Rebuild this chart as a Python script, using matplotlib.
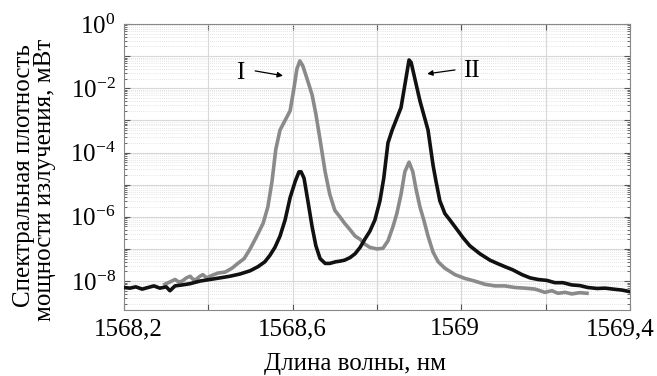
import numpy as np
import matplotlib
matplotlib.use("Agg")
import matplotlib.pyplot as plt
import matplotlib.transforms as mtrans
from matplotlib.ticker import LogLocator, FixedLocator, NullFormatter, FuncFormatter

plt.rcParams['font.family'] = ['Liberation Serif', 'DejaVu Serif']
plt.rcParams['mathtext.fontset'] = 'custom'
plt.rcParams['mathtext.rm'] = 'Liberation Serif'
plt.rcParams['mathtext.it'] = 'Liberation Serif:italic'

# Curve I (grey): wavelength (nm), log10 power (mW)
wl_I = [1568.297, 1568.310, 1568.321, 1568.330, 1568.338, 1568.348, 1568.357, 1568.364,
        1568.371, 1568.380, 1568.387, 1568.396, 1568.404, 1568.413, 1568.423,
        1568.440, 1568.456, 1568.470, 1568.485, 1568.499, 1568.515, 1568.530, 1568.541,
        1568.551, 1568.560, 1568.570, 1568.582, 1568.594, 1568.603, 1568.610, 1568.617,
        1568.624, 1568.634, 1568.646, 1568.655, 1568.665, 1568.677, 1568.688, 1568.700,
        1568.712, 1568.723, 1568.736, 1568.748, 1568.760, 1568.771, 1568.783, 1568.800,
        1568.814, 1568.826, 1568.838, 1568.847, 1568.857, 1568.866, 1568.876, 1568.885,
        1568.892, 1568.902, 1568.911, 1568.921, 1568.933, 1568.945, 1568.961, 1568.985,
        1569.009, 1569.032, 1569.056, 1569.080, 1569.103, 1569.127, 1569.151, 1569.175,
        1569.198, 1569.215, 1569.229, 1569.246, 1569.262, 1569.281, 1569.298]
log_I = [-8.10, -8.02, -7.95, -8.03, -8.00, -7.90, -7.85, -7.95,
         -7.95, -7.85, -7.80, -7.90, -7.85, -7.80, -7.75,
         -7.72, -7.60, -7.45, -7.30, -7.00, -6.60, -6.20, -5.70,
         -4.90, -3.90, -3.30, -3.00, -2.70, -2.00, -1.40, -1.15,
         -1.30, -1.70, -2.20, -2.80, -3.60, -4.60, -5.30, -5.80,
         -6.00, -6.20, -6.40, -6.60, -6.70, -6.85, -6.95, -7.00,
         -6.98, -6.75, -6.30, -5.90, -5.30, -4.60, -4.30, -4.60,
         -5.10, -5.70, -6.10, -6.60, -7.10, -7.40, -7.60, -7.80,
         -7.92, -8.00, -8.10, -8.15, -8.15, -8.20, -8.22, -8.25,
         -8.35, -8.30, -8.38, -8.35, -8.40, -8.36, -8.38]

# Curve II (black)
wl_II = [1568.200, 1568.214, 1568.228, 1568.243, 1568.257, 1568.271, 1568.285, 1568.300,
         1568.309, 1568.321, 1568.338, 1568.357, 1568.380, 1568.404, 1568.428, 1568.451,
         1568.475, 1568.499, 1568.518, 1568.534, 1568.546, 1568.558, 1568.570, 1568.582,
         1568.594, 1568.606, 1568.615, 1568.620, 1568.627, 1568.636, 1568.646, 1568.655,
         1568.665, 1568.677, 1568.688, 1568.702, 1568.712, 1568.723, 1568.736, 1568.748,
         1568.760, 1568.771, 1568.783, 1568.795, 1568.807, 1568.816, 1568.826, 1568.836,
         1568.857, 1568.866, 1568.876, 1568.881, 1568.895, 1568.902, 1568.921, 1568.933,
         1568.940, 1568.949, 1568.961, 1568.973, 1568.990, 1569.004, 1569.020, 1569.044,
         1569.068, 1569.085, 1569.103, 1569.122, 1569.144, 1569.163, 1569.182, 1569.203,
         1569.222, 1569.241, 1569.262, 1569.281, 1569.300, 1569.322, 1569.341, 1569.360,
         1569.381, 1569.400]
log_II = [-8.20, -8.22, -8.18, -8.25, -8.20, -8.15, -8.22, -8.18,
          -8.30, -8.15, -8.12, -8.08, -8.00, -7.95, -7.90, -7.85,
          -7.78, -7.68, -7.55, -7.40, -7.20, -6.95, -6.60, -6.10,
          -5.40, -4.90, -4.60, -4.60, -4.80, -5.50, -6.30, -6.90,
          -7.30, -7.45, -7.45, -7.40, -7.38, -7.35, -7.27, -7.15,
          -6.95, -6.70, -6.45, -6.10, -5.50, -4.80, -3.70, -3.30,
          -2.60, -1.90, -1.12, -1.20, -2.00, -2.40, -3.30, -4.40,
          -4.90, -5.50, -5.90, -6.10, -6.40, -6.65, -6.90, -7.15,
          -7.35, -7.45, -7.55, -7.65, -7.80, -7.90, -7.95, -7.98,
          -8.05, -8.05, -8.12, -8.14, -8.20, -8.23, -8.22, -8.25,
          -8.28, -8.33]

x_ticks = [1568.2, 1568.6, 1569.0, 1569.4]
x_tick_labels = ["1568,2", "1568,6", "1569", "1569,4"]
x_grid = [1568.2, 1568.4, 1568.6, 1568.8, 1569.0, 1569.2, 1569.4]

fig = plt.figure(figsize=(6.57, 3.76), dpi=100)
ax = fig.add_axes([124/657, 1-310/376, (630-124)/657, (310-24)/376])
ax.set_yscale('log')
ax.set_xlim(1568.2, 1569.4)
ax.set_ylim(10**-8.9, 1e0)

ax.plot(wl_I, 10**np.array(log_I), color='#8a8a8a', lw=2.6, solid_joinstyle='round', zorder=3)
ax.plot(wl_II, 10**np.array(log_II), color='#111111', lw=2.6, solid_joinstyle='round', zorder=4)

ax.set_xticks(x_grid)
ax.set_xticklabels([x_tick_labels[x_ticks.index(v)] if v in x_ticks else "" for v in x_grid])
ax.yaxis.set_major_locator(LogLocator(base=10, numticks=20))
ax.yaxis.set_minor_locator(LogLocator(base=10, subs=np.arange(2, 10), numticks=20))
ax.yaxis.set_minor_formatter(NullFormatter())
def yfmt(v, pos):
    e = int(round(np.log10(v)))
    return r"$10^{%d}$" % e if e % 2 == 0 else ""
ax.yaxis.set_major_formatter(FuncFormatter(yfmt))

ax.grid(True, which='major', color='#d8d8d8', lw=0.8, ls='-')
ax.grid(True, which='minor', axis='y', color='#dcdcdc', lw=0.6, ls=(0, (1, 1.5)))
ax.tick_params(which='both', direction='in', top=True, right=True, colors='#555555',
               labelcolor='black', labelsize=18, pad=6)
ax.tick_params(which='major', length=4)
ax.tick_params(which='minor', length=2.5)
for s in ax.spines.values():
    s.set_color('#888888')
    s.set_linewidth(0.8)

# small horizontal offsets of x tick labels as in the reference
offsets_px = {1568.2: 4, 1568.6: 0, 1569.0: -7, 1569.4: -10}
for v, lab in zip(x_grid, ax.get_xticklabels()):
    dx = offsets_px.get(v, 0)
    lab.set_transform(lab.get_transform() + mtrans.ScaledTranslation(dx/100, 0, fig.dpi_scale_trans))

fig.text(355/657, 1-364/376, "Длина волны, нм", fontsize=18, ha='center', va='center')
fig.text(24/657, 1-176/376, "Спектральная плотность", rotation=90, fontsize=18,
         ha='center', va='center')
fig.text(45/657, 1-180/376, "мощности излучения, мВт", rotation=90, fontsize=18,
         ha='center', va='center')

ax.annotate("", xy=(1568.577, 10**-1.61), xytext=(1568.511, 10**-1.46),
            arrowprops=dict(arrowstyle='-|>', color='black', lw=0.9, mutation_scale=8,
                            shrinkA=0, shrinkB=0))
ax.text(1568.475, 10**-1.52, "I", fontsize=18, ha='center', va='center')
ax.annotate("", xy=(1568.919, 10**-1.55), xytext=(1568.985, 10**-1.43),
            arrowprops=dict(arrowstyle='-|>', color='black', lw=0.9, mutation_scale=8,
                            shrinkA=0, shrinkB=0))
ax.text(1569.025, 10**-1.46, "II", fontsize=18, ha='center', va='center')

fig.savefig("out.png", dpi=100)
